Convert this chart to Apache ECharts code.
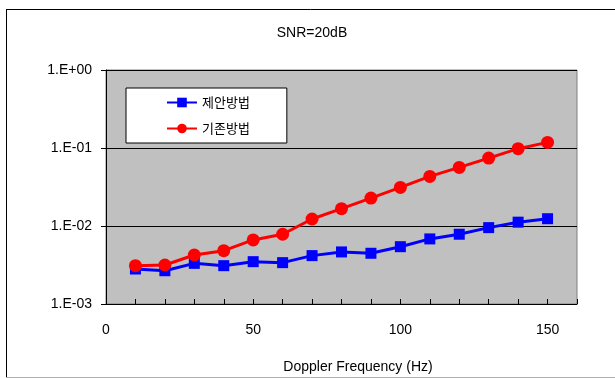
<!DOCTYPE html>
<html><head><meta charset="utf-8">
<script src="https://cdn.jsdelivr.net/npm/echarts@6/dist/echarts.min.js"></script>
<style>html,body{margin:0;padding:0;background:#fff}#c{width:615px;height:378px}</style>
</head><body><div id="c"></div>
<script>
const freq = [10,20,30,40,50,60,70,80,90,100,110,120,130,140,150];
const proposed = [0.00281,0.00267,0.00332,0.0031,0.00349,0.00339,0.00417,0.00465,0.00447,0.00543,0.00683,0.00784,0.00953,0.0112,0.0124];
const existing = [0.0031,0.00316,0.00425,0.00483,0.00663,0.00784,0.0123,0.0167,0.0228,0.0312,0.0432,0.0564,0.0743,0.098,0.118];
const seriesNames = ['제안방법','기존방법'];
const titleText = 'SNR=20dB';
const xName = 'Doppler Frequency (Hz)';

const FONT = "'Liberation Sans', 'Noto Sans CJK KR', sans-serif";
const chart = echarts.init(document.getElementById('c'));
function pair(xs, ys){ return xs.map((x,i)=>[x, ys[i]]); }
chart.setOption({
  animation:false,
  backgroundColor:'#fff',
  graphic:[
    {type:'line', shape:{x1:6,y1:9.5,x2:615,y2:9.5}, style:{stroke:'#000',lineWidth:1}},
    {type:'line', shape:{x1:6.5,y1:9,x2:6.5,y2:377}, style:{stroke:'#000',lineWidth:1}},
    {type:'line', shape:{x1:6,y1:377.5,x2:615,y2:377.5}, style:{stroke:'#b0b0b0',lineWidth:1}}
  ],
  title:[
    {text:titleText, left:307, top:21, textAlign:'center', textStyle:{fontFamily:FONT,fontSize:14,fontWeight:'normal',color:'#000'}},
    {text:xName, left:353, top:355, textAlign:'center', textStyle:{fontFamily:FONT,fontSize:14,fontWeight:'normal',color:'#000'}}
  ],
  legend:{
    orient:'vertical', left:126, top:88,
    backgroundColor:'#fff', borderColor:'#000', borderWidth:1,
    padding:[8,37,8,40], itemWidth:30, itemHeight:12, itemGap:13,
    textStyle:{fontFamily:"'Noto Sans CJK KR', sans-serif", fontSize:13, color:'#000'},
    data:seriesNames
  },
  grid:{left:106, right:38, top:70, bottom:74, show:true, backgroundColor:'#c0c0c0', borderColor:'#808080', borderWidth:1},
  xAxis:{
    type:'value', min:0, max:160, interval:10,
    axisLine:{lineStyle:{color:'#000',width:1}},
    axisTick:{inside:true,length:5,lineStyle:{color:'#000'}},
    axisLabel:{formatter:v=> v%50===0 ? String(v) : '', fontFamily:FONT, fontSize:14, color:'#000', margin:19},
    splitLine:{show:false}
  },
  yAxis:{
    type:'log', logBase:10, min:0.001, max:1,
    axisLine:{show:true,lineStyle:{color:'#000',width:1}},
    axisTick:{show:true,length:5,lineStyle:{color:'#000'}},
    axisLabel:{fontFamily:FONT,fontSize:14,color:'#000',margin:14,
      formatter:v=>{const e=Math.round(Math.log10(v)); return '1.E'+(e<0?'-':'+')+String(Math.abs(e)).padStart(2,'0');}},
    splitLine:{show:true,lineStyle:{color:'#000',width:1}},
    minorTick:{show:false}
  },
  series:[
    {name:seriesNames[0], type:'line', data:pair(freq,proposed), symbol:'rect', symbolSize:11,
      lineStyle:{color:'#0000ff',width:3}, itemStyle:{color:'#0000ff'}, z:2},
    {name:seriesNames[1], type:'line', data:pair(freq,existing), symbol:'circle', symbolSize:13,
      lineStyle:{color:'#ff0000',width:3}, itemStyle:{color:'#ff0000'}, z:3}
  ]
});
</script></body></html>
